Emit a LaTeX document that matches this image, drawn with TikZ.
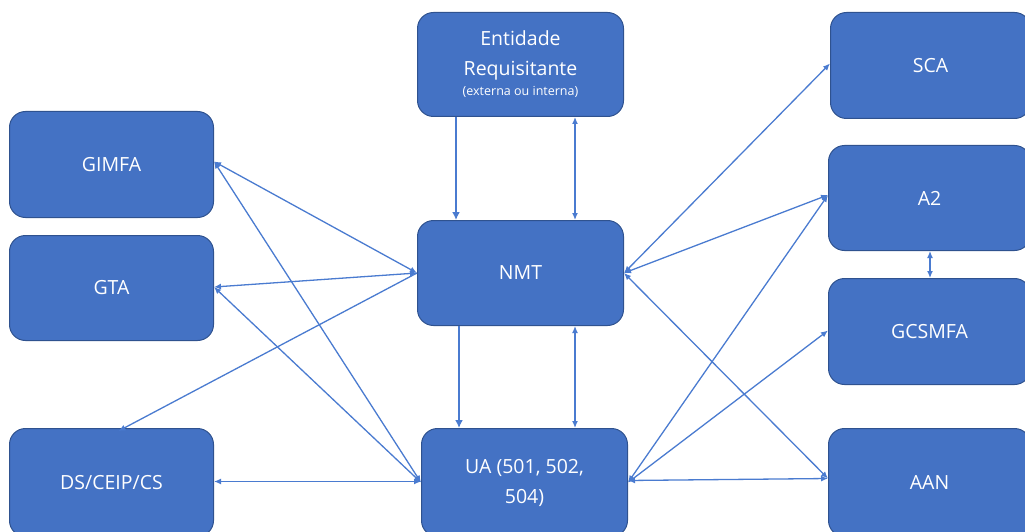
\documentclass[tikz,border=0pt]{standalone}
\usepackage{fontspec}
\setmainfont{Open Sans}
\usetikzlibrary{arrows.meta}
\definecolor{boxfill}{HTML}{4472C4}
\definecolor{boxedge}{HTML}{2F528F}
\definecolor{linec}{HTML}{4A7BD0}
\begin{document}
\begin{tikzpicture}[x=1pt,y=-1pt,
  box/.style={draw=boxedge, line width=1pt, fill=boxfill, rounded corners=16pt,
    text=white, font=\fontsize{19.5}{30}\selectfont, align=center, anchor=north west,
    inner sep=0pt},
  link/.style={draw=linec, line width=1.3pt, {Latex[length=7pt,width=6pt]}-{Latex[length=7pt,width=6pt]}},
  onelink/.style={draw=linec, line width=1.3pt, -{Latex[length=7pt,width=6pt]}},
  thick link/.style={draw=linec, line width=2.6pt, -{Latex[length=8pt,width=8pt]}}]
\useasboundingbox (0,0) rectangle (1025,532);
\clip (0,0) rectangle (1025,532);
\node[box, minimum width=206pt, minimum height=104pt] (ent) at (417,12)
  {Entidade\\Requisitante\\[-10pt]{\fontsize{12.5}{14}\selectfont(externa ou interna)}};
\node[box, minimum width=204pt, minimum height=106pt] (gimfa) at (9,111) {GIMFA};
\node[box, minimum width=204pt, minimum height=105pt] (gta) at (9,235) {GTA};
\node[box, minimum width=206pt, minimum height=105pt] (nmt) at (417,220) {NMT};
\node[box, minimum width=204pt, minimum height=108pt] (ds) at (9,428) {DS/CEIP/CS};
\node[box, minimum width=206pt, minimum height=108pt] (ua) at (421,428) {UA (501, 502,\\504)};
\node[box, minimum width=200pt, minimum height=106pt] (sca) at (830,12) {SCA};
\node[box, minimum width=202pt, minimum height=105pt] (a2) at (828,145) {A2};
\node[box, minimum width=202pt, minimum height=106pt] (gcs) at (828,278) {GCSMFA};
\node[box, minimum width=202pt, minimum height=108pt] (aan) at (828,428) {AAN};
% vertical connectors
\draw[thick link] (ent.south -| 456,0) -- (nmt.north -| 456,0);
\draw[link] (ent.south -| 575,0) -- (nmt.north -| 575,0);
\draw[thick link] (nmt.south -| 459,0) -- (ua.north -| 459,0);
\draw[link] (nmt.south -| 575,0) -- (ua.north -| 575,0);
\draw[link] (a2.south -| 930,0) -- (gcs.north -| 930,0);
% left side
\draw[link] ([yshift=3]gimfa.east) -- (nmt.west);
\draw[link] ([yshift=1]gta.east) -- (nmt.west);
\draw[onelink] (nmt.west) -- ([xshift=7,yshift=-3]ds.north);
\draw[link] ([yshift=3]gimfa.east) -- (ua.west);
\draw[link] ([yshift=1]gta.east) -- (ua.west);
\draw[link] ([yshift=1]ds.east) -- ([yshift=1]ua.west);
% right side
\draw[link] (nmt.east) -- ([yshift=2]sca.west);
\draw[link] (nmt.east) -- ([yshift=3]a2.west);
\draw[link] (nmt.east) -- ([yshift=4]aan.west);
\draw[link] (ua.east) -- ([yshift=3]a2.west);
\draw[link] (ua.east) -- ([yshift=1]gcs.west);
\draw[link] ([yshift=2]ua.east) -- ([yshift=4]aan.west);
\end{tikzpicture}
\end{document}
